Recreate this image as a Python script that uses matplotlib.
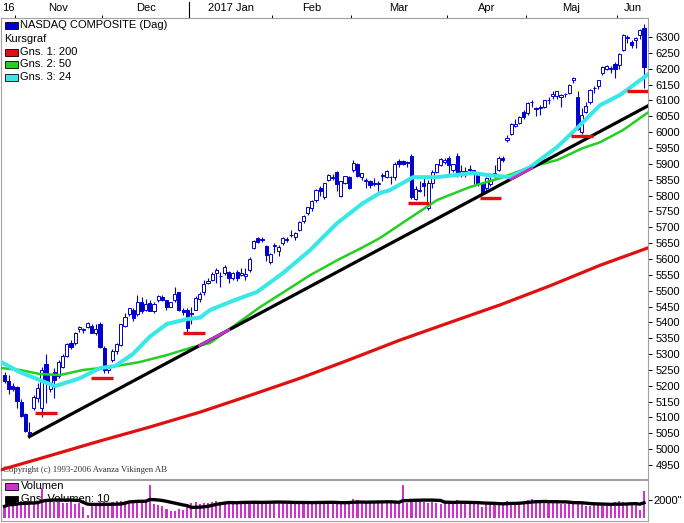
import numpy as np
import pandas as pd
import matplotlib
matplotlib.use("Agg")
import matplotlib.pyplot as plt
from matplotlib.patches import Rectangle

plt.rcParams['font.family'] = ['Liberation Sans', 'DejaVu Sans']

# daily bars, 27 Oct 2016 .. 9 Jun 2017 (trading day index 0..154)
opens = [5235, 5215, 5200, 5195, 5150, 5110, 5055, 5130, 5160, 5130,
         5270, 5190, 5245, 5230, 5260, 5295, 5335, 5335, 5380, 5375,
         5385, 5390, 5365, 5395, 5320, 5250, 5280, 5310, 5330, 5390,
         5425, 5440, 5425, 5465, 5440, 5460, 5435, 5470, 5480, 5470,
         5450, 5470, 5495, 5440, 5440, 5425, 5440, 5475, 5495, 5525,
         5535, 5555, 5545, 5555, 5560, 5540, 5560, 5550, 5545, 5565,
         5635, 5665, 5662, 5640, 5590, 5640, 5625, 5650, 5660, 5675,
         5670, 5690, 5720, 5745, 5760, 5785, 5825, 5795, 5850, 5855,
         5875, 5800, 5840, 5860, 5880, 5900, 5860, 5845, 5845, 5840,
         5835, 5865, 5860, 5860, 5860, 5910, 5910, 5905, 5925, 5790,
         5815, 5840, 5760, 5840, 5875, 5895, 5905, 5920, 5880, 5925,
         5865, 5875, 5885, 5880, 5870, 5835, 5825, 5835, 5870, 5880,
         5920, 5975, 5995, 6020, 6030, 6065, 6060, 6095, 6075, 6080,
         6080, 6100, 6115, 6115, 6110, 6120, 6125, 6165, 6110, 6000,
         6065, 6095, 6140, 6145, 6185, 6200, 6200, 6215, 6212, 6260,
         6300, 6285, 6290, 6305, 6330]
highs = [5245, 5235, 5210, 5200, 5158, 5115, 5085, 5170, 5210, 5260,
         5300, 5240, 5255, 5280, 5300, 5335, 5345, 5370, 5390, 5382,
         5400, 5395, 5395, 5400, 5325, 5265, 5315, 5335, 5395, 5430,
         5445, 5445, 5485, 5480, 5475, 5470, 5465, 5485, 5485, 5472,
         5465, 5512, 5496, 5445, 5445, 5450, 5482, 5495, 5535, 5540,
         5560, 5570, 5560, 5580, 5562, 5560, 5565, 5570, 5570, 5605,
         5660, 5670, 5670, 5645, 5620, 5650, 5645, 5670, 5670, 5690,
         5685, 5720, 5740, 5765, 5785, 5820, 5830, 5840, 5868, 5868,
         5878, 5846, 5862, 5862, 5911, 5902, 5872, 5855, 5850, 5855,
         5845, 5870, 5880, 5862, 5905, 5915, 5912, 5910, 5930, 5830,
         5845, 5860, 5850, 5880, 5900, 5920, 5918, 5925, 5900, 5935,
         5895, 5890, 5895, 5882, 5875, 5840, 5860, 5860, 5895, 5925,
         5925, 5990, 6030, 6040, 6050, 6070, 6095, 6100, 6080, 6085,
         6102, 6110, 6130, 6130, 6120, 6125, 6152, 6175, 6130, 6075,
         6095, 6135, 6145, 6165, 6210, 6212, 6210, 6220, 6250, 6310,
         6305, 6290, 6300, 6325, 6342]
lows = [5210, 5175, 5185, 5130, 5100, 5055, 5035, 5125, 5150, 5100,
        5145, 5180, 5160, 5225, 5255, 5290, 5315, 5330, 5370, 5365,
        5383, 5365, 5360, 5320, 5240, 5240, 5275, 5300, 5325, 5385,
        5420, 5405, 5420, 5430, 5435, 5435, 5430, 5465, 5468, 5440,
        5448, 5465, 5436, 5422, 5370, 5395, 5438, 5465, 5485, 5520,
        5530, 5525, 5510, 5550, 5525, 5535, 5530, 5545, 5535, 5560,
        5630, 5650, 5655, 5595, 5585, 5620, 5610, 5645, 5655, 5670,
        5660, 5688, 5715, 5740, 5750, 5780, 5800, 5790, 5845, 5850,
        5815, 5795, 5835, 5820, 5875, 5858, 5850, 5825, 5825, 5830,
        5815, 5845, 5855, 5835, 5850, 5890, 5895, 5890, 5790, 5785,
        5812, 5800, 5755, 5825, 5870, 5893, 5900, 5865, 5875, 5858,
        5860, 5860, 5870, 5835, 5830, 5805, 5815, 5830, 5855, 5878,
        5905, 5970, 5992, 6015, 6025, 6040, 6055, 6080, 6050, 6055,
        6075, 6090, 6105, 6105, 6080, 6110, 6120, 6155, 6007, 5995,
        6060, 6090, 6125, 6135, 6180, 6195, 6185, 6170, 6200, 6255,
        6280, 6265, 6265, 6295, 6138]
closes = [5215, 5190, 5189, 5153, 5105, 5058, 5046, 5166, 5193, 5251,
          5208, 5237, 5218, 5275, 5294, 5333, 5321, 5368, 5386, 5380,
          5399, 5368, 5380, 5323, 5251, 5256, 5309, 5333, 5394, 5417,
          5444, 5413, 5463, 5437, 5457, 5437, 5458, 5483, 5472, 5448,
          5463, 5488, 5438, 5433, 5383, 5429, 5477, 5488, 5521, 5532,
          5552, 5564, 5547, 5575, 5539, 5556, 5540, 5555, 5553, 5600,
          5656, 5655, 5661, 5614, 5615, 5643, 5637, 5667, 5664, 5675,
          5683, 5716, 5734, 5763, 5783, 5819, 5815, 5839, 5866, 5860,
          5836, 5845, 5861, 5825, 5904, 5861, 5871, 5850, 5834, 5838,
          5839, 5861, 5876, 5857, 5900, 5901, 5901, 5902, 5794, 5822,
          5818, 5829, 5840, 5875, 5898, 5915, 5912, 5895, 5898, 5865,
          5878, 5877, 5881, 5867, 5837, 5805, 5856, 5849, 5864, 5917,
          5911, 5983, 6025, 6025, 6048, 6048, 6091, 6095, 6072, 6076,
          6101, 6102, 6121, 6129, 6116, 6121, 6150, 6170, 6011, 6055,
          6084, 6133, 6138, 6163, 6205, 6210, 6203, 6199, 6247, 6306,
          6296, 6275, 6297, 6322, 6205]

# volume (millions)
volume = [1261, 1622, 1441, 1730, 1802, 1622, 1802, 1730, 1874, 3243,
          2090, 1802, 1730, 1874, 1622, 1622, 1802, 1513, 1622, 1153,
          288, 1513, 1622, 1802, 1874, 1622, 1730, 1802, 1802, 1874,
          1730, 1802, 1946, 1874, 1946, 3531, 1513, 1441, 1261, 1009,
          721, 793, 1009, 901, 1153, 1622, 1730, 1513, 1622, 1622,
          1730, 1802, 1730, 1622, 1730, 1513, 1622, 1802, 1622, 1730,
          1874, 1730, 1622, 1730, 1802, 1730, 1622, 1730, 1513, 1622,
          1730, 1730, 1622, 1622, 1730, 1802, 1730, 1802, 1622, 1622,
          1513, 1513, 1622, 1730, 2090, 1946, 1802, 1622, 1730, 1622,
          1730, 1622, 1622, 1730, 1802, 1730, 3603, 1622, 1982, 1730,
          1802, 1730, 1622, 1730, 1622, 1513, 1730, 1622, 1730, 1982,
          1802, 1622, 1513, 1622, 1513, 1153, 1513, 1513, 1622, 1730,
          1513, 1874, 1730, 1622, 1730, 1513, 1946, 2018, 1946, 1802,
          1730, 1622, 1730, 1622, 1513, 1513, 1622, 1513, 1874, 1730,
          1261, 1261, 1441, 1513, 1441, 1261, 1441, 1730, 1874, 1730,
          1513, 1441, 1622, 901, 2955]

# moving averages: (day index, value)
ma24_idx = [-0.85, 3.7, 8.5, 12.2, 18.2, 23.0, 26.6, 30.9, 35.0, 39.1, 43.9,
            47.1, 49.5, 55.0, 60.8, 67.1, 73.6, 80.1, 86.3, 90.4, 92.8,
            98.4, 104.2, 112.8, 116.2, 121.7, 126.6, 133.1, 138.6, 143.4,
            148.2, 154.96]
ma24_val = [5275, 5243, 5218, 5199, 5224, 5256, 5262, 5300, 5355, 5395, 5410,
            5415, 5439, 5468, 5496, 5556, 5628, 5713, 5776, 5808, 5817,
            5858, 5858, 5871, 5865, 5858, 5890, 5953, 6022, 6085,
            6117, 6182]
ma50_idx = [-0.85, 3.7, 8.5, 13.4, 18.9, 25.4, 32.6, 39.1, 45.4, 49.5, 54.3,
            61.5, 68.0, 73.6, 80.1, 86.3, 90.4, 96.9, 104.2, 112.1, 120.1,
            126.6, 133.1, 139.3, 143.4, 149.0, 154.96]
ma50_val = [5256, 5250, 5237, 5234, 5250, 5259, 5275, 5297, 5322, 5335, 5380,
            5448, 5502, 5549, 5596, 5637, 5666, 5723, 5786, 5827, 5858,
            5890, 5912, 5950, 5968, 6007, 6062]
ma200_idx = [-0.85, 11.0, 23.0, 35.0, 47.1, 59.2, 71.2, 83.2, 95.2, 107.3,
             119.3, 131.3, 143.4, 154.96]
ma200_val = [4935, 4980, 5026, 5070, 5117, 5170, 5224, 5283, 5344, 5400,
             5455, 5515, 5580, 5635]

# trend line through the lows, and support marks (centre index, level)
trend_x = [6, 154.96]
trend_y = [5040, 6083]
overlap_spans = [(47, 54), (122, 127)]
support_idx = [10.0, 23.5, 45.6, 99.7, 117.0, 139.1, 152.6]
support_val = [5114, 5224, 5366, 5776, 5792, 5988, 6130]

month_start_idx = [3, 24, 45, 65, 84, 107, 126, 148]
month_labels = ["16", "Nov", "Dec", "2017 Jan", "Feb", "Mar", "Apr", "Maj", "Jun"]
year_start_idx = 45

BLUE = '#0000cc'
RED = '#e01010'
GREEN = '#22d022'
CYAN = '#38e8e8'
MAGENTA = '#cc33cc'
GRID = '#a0a0a0'

W, H = 684, 523
fig = plt.figure(figsize=(W / 100, H / 100), dpi=100)
XMIN, XMAX = -0.85, 154.96

ax = fig.add_axes([1 / W, 1 - 479 / H, 647 / W, 461 / H])
vax = fig.add_axes([1 / W, 1 - 521 / H, 647 / W, 41 / H])

df = pd.DataFrame({'o': opens, 'h': highs, 'l': lows, 'c': closes, 'v': volume})
x = np.arange(len(df))

# candles
ax.vlines(x, df.l, df.h, color=BLUE, lw=0.8, zorder=2)
up = df.c >= df.o
bot = np.minimum(df.o, df.c)
hgt = np.maximum((df.c - df.o).abs(), 1.5)
ax.bar(x[up], hgt[up], bottom=bot[up], width=0.75, facecolor='white',
       edgecolor=BLUE, lw=0.7, zorder=2)
ax.bar(x[~up], hgt[~up], bottom=bot[~up], width=0.75, facecolor=BLUE,
       edgecolor=BLUE, lw=0.7, zorder=2)

# averages and trend line
ax.plot(ma200_idx, ma200_val, color=RED, lw=2.3, zorder=3)
ax.plot(ma50_idx, ma50_val, color=GREEN, lw=1.8, zorder=3)
ax.plot(trend_x, trend_y, color='black', lw=2.3, zorder=4)
slope = (trend_y[1] - trend_y[0]) / (trend_x[1] - trend_x[0])
for a, b in overlap_spans:
    ax.plot([a, b], [trend_y[0] + (a - trend_x[0]) * slope,
                     trend_y[0] + (b - trend_x[0]) * slope],
            color=MAGENTA, lw=2.0, zorder=5)
ax.plot(ma24_idx, ma24_val, color=CYAN, lw=2.9, zorder=4)
ax.hlines(support_val, np.array(support_idx) - 2.6, np.array(support_idx) + 2.6,
          color=RED, lw=2.4, zorder=6)

ax.set_xlim(XMIN, XMAX)
ax.set_ylim(4906, 6360)
for s in ax.spines.values():
    s.set_color(GRID)
    s.set_linewidth(0.8)

ax.yaxis.tick_right()
ax.set_yticks(np.arange(4950, 6301, 50))
ax.tick_params(axis='y', length=3, width=0.7, pad=2.5, labelsize=8, colors='black')

ax.xaxis.tick_top()
bounds = [m - 0.5 for m in month_start_idx]
ax.set_xticks(bounds)
ax.set_xticklabels([])
ax.tick_params(axis='x', length=2.3, width=0.7, colors='black')
edges = [XMIN] + bounds + [XMAX]
trans = ax.get_xaxis_transform()
for i, lab in enumerate(month_labels):
    ax.text((edges[i] + edges[i + 1]) / 2, 1.0 + 9.5 / 461, lab, transform=trans,
            ha='center', va='center', fontsize=8, clip_on=False)
ax.plot([year_start_idx - 0.5] * 2, [1, 1 + 16 / 461], transform=trans,
        color='black', lw=0.8, clip_on=False)

ax.text(2 / 647, 9 / 461, "Copyright (c) 1993-2006 Avanza Vikingen AB",
        transform=ax.transAxes, fontsize=6.3, family='Liberation Serif',
        color='#303030', va='center', ha='left', zorder=1)

# legend of the price panel
def legend_row(px, py, label, color=None):
    if color is not None:
        fig.add_artist(Rectangle((5 / W, 1 - (py + 3.5) / H), 13 / W, 7 / H,
                                 transform=fig.transFigure, facecolor=color,
                                 edgecolor='black', lw=0.6, zorder=10))
    fig.text(px / W, 1 - py / H, label, fontsize=8, va='center', ha='left', zorder=10)

legend_row(20, 25, "NASDAQ COMPOSITE (Dag)", BLUE)
legend_row(4, 39, "Kursgraf")
legend_row(20, 52, "Gns. 1: 200", RED)
legend_row(20, 64, "Gns. 2: 50", GREEN)
legend_row(20, 77, "Gns. 3: 24", CYAN)

# volume panel
vax.text(20 / 647, 1 - 6 / 41, "Volumen", transform=vax.transAxes, fontsize=8,
         va='center', ha='left', zorder=1)
vax.text(20 / 647, 1 - 19 / 41, "Gns. Volumen: 10", transform=vax.transAxes,
         fontsize=8, va='center', ha='left', zorder=1)
vax.add_patch(Rectangle((4 / 647, 1 - 9.5 / 41), 13 / 647, 7 / 41, transform=vax.transAxes,
                        facecolor=MAGENTA, edgecolor='black', lw=0.6, zorder=1))
vax.add_patch(Rectangle((4 / 647, 1 - 22.5 / 41), 13 / 647, 7 / 41, transform=vax.transAxes,
                        facecolor='black', edgecolor='black', lw=0.6, zorder=1))
vax.bar(x, df.v, width=0.5, color=MAGENTA, zorder=2)
vax.plot(x, df.v.rolling(10, min_periods=1).mean(), color='black', lw=2.4, zorder=3)
vax.set_xlim(XMIN, XMAX)
vax.set_ylim(-324, 4108)
vax.set_xticks([])
vax.yaxis.tick_right()
vax.set_yticks([2000])
vax.set_yticklabels(['2000"'])
vax.tick_params(axis='y', length=3, width=0.7, pad=1, labelsize=8)
for s in vax.spines.values():
    s.set_color(GRID)
    s.set_linewidth(0.8)

fig.savefig("out.png", dpi=100)
